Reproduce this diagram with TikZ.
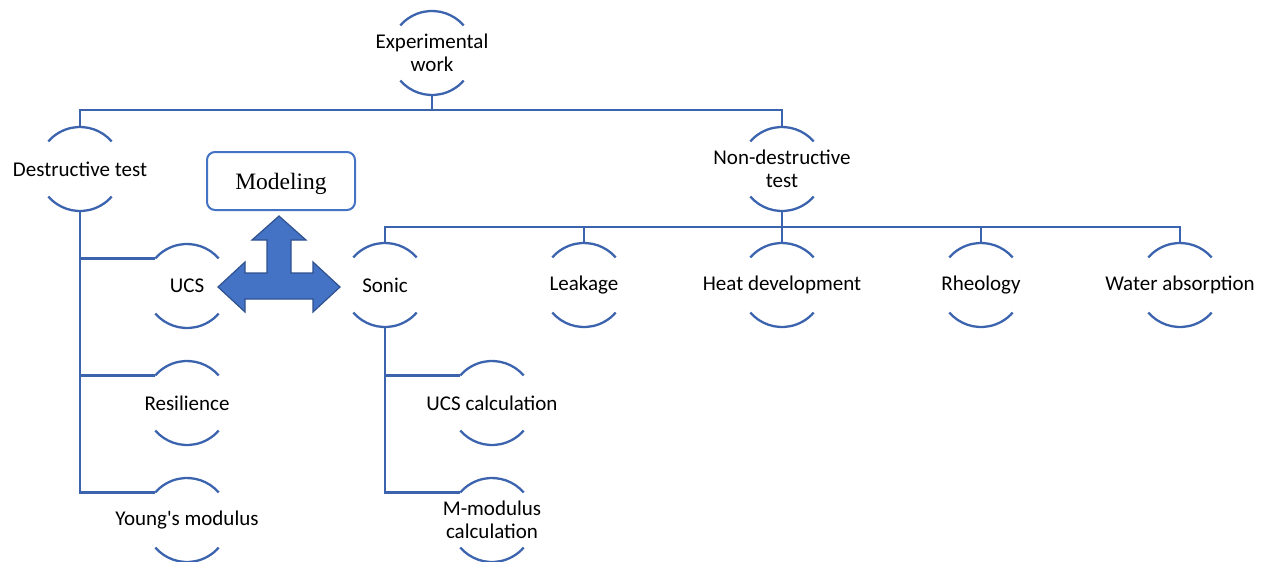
\documentclass[tikz,border=0pt]{standalone}
\usepackage{fontspec}
\newfontfamily\itemface{Carlito}
\newfontfamily\serifface{Liberation Serif}
\definecolor{lineblue}{HTML}{3C64AE}
\definecolor{arrowfill}{HTML}{4472C4}
\definecolor{arrowedge}{HTML}{2F528F}
\begin{document}
\begin{tikzpicture}[x=1pt,y=1pt,
  conn/.style={draw=lineblue, line width=2.2pt},
  arcline/.style={draw=lineblue, line width=2.3pt},
  item/.style={circle, minimum size=84pt, inner sep=0pt, outer sep=0pt,
    label={[itemtext]center:#1}},
  itemtext/.style={font=\itemface\fontsize{21}{23.5}\selectfont,
    align=center, inner sep=0pt},
]
\useasboundingbox (0,0) rectangle (1275,-562);

% items of the hierarchy (caption drawn as a centred label)
\node[item={Experimental\\work}]   (exp)   at (432,-53)  {};
\node[item={Destructive test}]     (dt)    at (80,-169)  {};
\node[item={Non-destructive\\test}] (nd)   at (782,-169) {};
\node[item={UCS}]                  (ucs)   at (187,-286) {};
\node[item={Resilience}]           (res)   at (187,-403) {};
\node[item={Young's modulus}]      (young) at (187,-520) {};
\node[item={Sonic}]                (sonic) at (385,-285) {};
\node[item={Leakage}]              (leak)  at (584,-285) {};
\node[item={Heat development}]     (heat)  at (782,-285) {};
\node[item={Rheology}]             (rheo)  at (981,-285) {};
\node[item={Water absorption}]     (water) at (1180,-285){};
\node[item={UCS calculation}]      (ucsc)  at (492,-403) {};
\node[item={M-modulus\\calculation}] (mmod) at (492,-520) {};

% upper and lower arcs around every item
\foreach \n in {exp,dt,nd,ucs,res,young,sonic,leak,heat,rheo,water,ucsc,mmod}{
  \draw[arcline] (\n.41) arc[start angle=41, end angle=139, radius=42pt];
  \draw[arcline] (\n.221) arc[start angle=221, end angle=319, radius=42pt];
}

% first level bus
\coordinate (busA) at (432,-110);
\draw[conn] (exp.south) -- (busA);
\draw[conn] (dt.north) -- (dt.north |- busA) -| (nd.north);

% second level bus
\coordinate (busB) at (782,-227);
\draw[conn] (nd.south) -- (busB);
\draw[conn] (sonic.north) -- (sonic.north |- busB) -| (water.north);
\draw[conn] (leak.north) -- (leak.north |- busB);
\draw[conn] (heat.north) -- (heat.north |- busB);
\draw[conn] (rheo.north) -- (rheo.north |- busB);

% destructive test branch
\draw[conn] (dt.south) |- (young.139);
\draw[conn] (ucs.139) -- (ucs.139 -| dt.south);
\draw[conn] (res.139) -- (res.139 -| dt.south);

% sonic branch
\draw[conn] (sonic.south) |- (mmod.139);
\draw[conn] (ucsc.139) -- (ucsc.139 -| sonic.south);

% modeling box
\node[draw=arrowfill, line width=2pt, rounded corners=8pt,
  minimum width=148pt, minimum height=58pt, inner sep=0pt,
  label={[font=\serifface\fontsize{23.5}{26}\selectfont, inner sep=0pt,
          yshift=-3pt]center:Modeling}] (model) at (281,-181) {};

% three way block arrow
\draw[fill=arrowfill, draw=arrowedge, line width=1.2pt, line join=miter]
  (218,-287) -- (245,-262) -- (245,-273) -- (267,-273) -- (267,-240)
  -- (252,-240) -- (279,-216) -- (306,-240) -- (291,-240) -- (291,-273)
  -- (313,-273) -- (313,-262) -- (340,-287) -- (313,-312) -- (313,-299)
  -- (245,-299) -- (245,-312) -- cycle;
\end{tikzpicture}
\end{document}
